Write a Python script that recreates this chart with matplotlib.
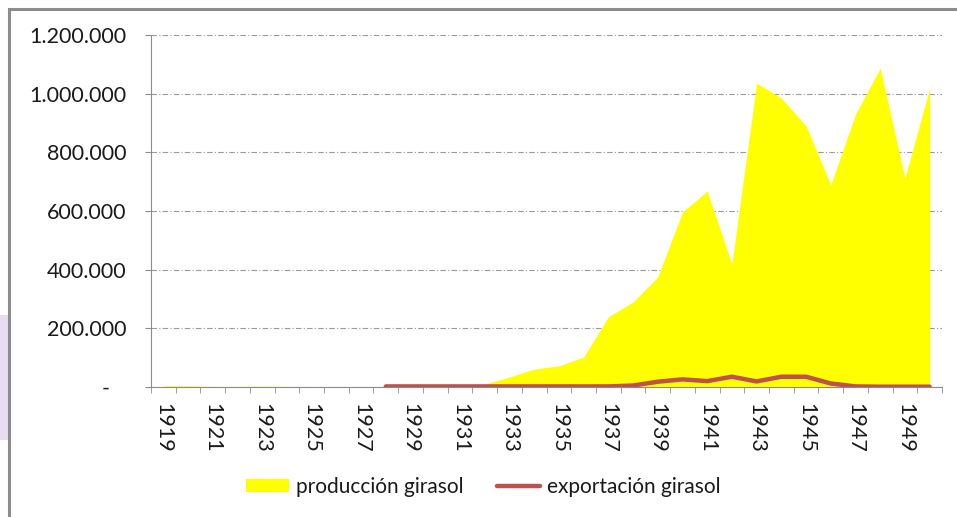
import numpy as np
import matplotlib
matplotlib.use("Agg")
import matplotlib.pyplot as plt
from matplotlib.patches import Rectangle, Patch
from matplotlib.lines import Line2D
from matplotlib.ticker import FuncFormatter

# Datos (toneladas)
anios = list(range(1919, 1951))
produccion = [4000, 4000, 2000, 2000, 3000, 2000, 1000, 0, 2000, 0, 0, 0,
              2000, 10000, 34000, 61000, 72000, 102000, 239000, 290000,
              375000, 596000, 668000, 419000, 1036000, 985000, 890000,
              689000, 930000, 1087000, 712000, 1019000]
anios_exp = list(range(1928, 1951))
exportacion = [2000, 2000, 2000, 2000, 2000, 2000, 2000, 2000, 2000, 2000,
               5000, 18000, 26000, 20000, 35000, 19000, 35000, 35000,
               12000, 2000, 1000, 1000, 1000]
etiquetas_x = list(range(1919, 1951, 2))

amarillo = '#FFFF00'
rojo = '#C0504D'

plt.rcParams['font.family'] = ['Lato', 'DejaVu Sans']

fig = plt.figure(figsize=(9.57, 5.17), dpi=100)
ax = fig.add_axes([151 / 957, 1 - 387 / 517, 791 / 957, 352 / 517])

# Marco del gráfico y franja lateral
fig.patches.append(Rectangle((0, 1 - 440 / 517), 8 / 957, 125 / 517,
                             transform=fig.transFigure, facecolor='#EADCF0',
                             edgecolor='none', zorder=0))
fig.patches.append(Rectangle((9 / 957, -0.05), 1.1, 1 - 9 / 517 + 0.05,
                             transform=fig.transFigure, facecolor='none',
                             edgecolor='#8C8C8C', linewidth=2.2, zorder=1))

ax.fill_between(anios, produccion, 0, color=amarillo, linewidth=0, zorder=2)
ax.plot(anios_exp, exportacion, color=rojo, linewidth=3.2,
        solid_capstyle='round', zorder=3)

ax.set_xlim(1918.5, 1950.5)
ax.set_ylim(0, 1200000)
ax.set_yticks(np.arange(0, 1200001, 200000))


def fmt(v, pos):
    if v == 0:
        return '-   '
    return '{:,.0f}'.format(v).replace(',', '.')


ax.yaxis.set_major_formatter(FuncFormatter(fmt))
ax.grid(axis='y', color='#9A9A9A', linewidth=0.8, linestyle=(0, (5, 2, 1, 2)))
ax.set_axisbelow(True)

ax.set_xticks(etiquetas_x)
ax.set_xticklabels([str(a) for a in etiquetas_x], rotation=270,
                   va='top', ha='center')
ax.set_xticks(np.arange(1918.5, 1951, 1), minor=True)
ax.tick_params(axis='x', which='major', length=0, pad=11.5, labelsize=15.5,
               labelcolor='#1A1A1A')
ax.tick_params(axis='x', which='minor', length=4.3, color='#8C8C8C')
ax.tick_params(axis='y', length=4.3, color='#8C8C8C', pad=13.5, labelsize=15.5,
               labelcolor='#1A1A1A')

for lado in ['top', 'right']:
    ax.spines[lado].set_visible(False)
ax.spines['left'].set_color('#8C8C8C')
ax.spines['bottom'].set_color('#8C8C8C')

handles = [Patch(facecolor=amarillo, edgecolor='none'),
           Line2D([0], [0], color=rojo, linewidth=3.2, solid_capstyle='round')]
fig.legend(handles, ['producción girasol', 'exportación girasol'],
           loc='center', bbox_to_anchor=(483 / 957, 1 - 487 / 517), ncol=2,
           frameon=False, fontsize=15, handlelength=2.1, handleheight=0.63,
           handletextpad=0.3, columnspacing=1.6, labelcolor='#1A1A1A')

fig.savefig('out.png', dpi=100)
